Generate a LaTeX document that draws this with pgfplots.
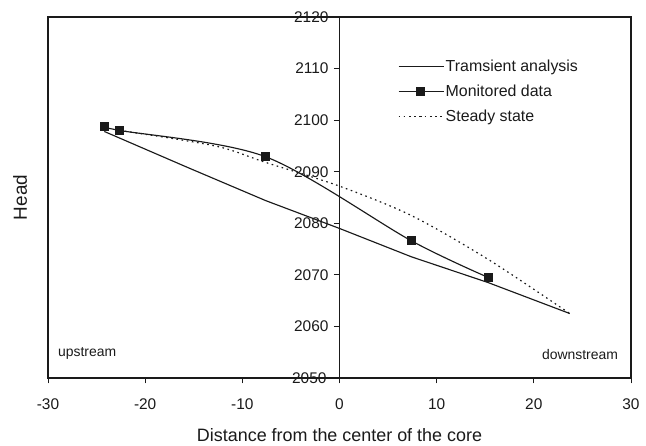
\documentclass[border=0pt]{standalone}
\usepackage{pgfplots}
\pgfplotsset{compat=1.18}
\usepackage{fontspec}
\setmainfont{Liberation Sans}
\definecolor{ink}{HTML}{1A1A1A}
\begin{document}
\begin{tikzpicture}
\begin{axis}[
  scale only axis, width=583bp, height=361bp,
  xmin=-30, xmax=30, ymin=2050, ymax=2120,
  xtick={-30,-20,...,30}, ytick={2060,2070,...,2120},
  extra y ticks={2050},
  extra y tick style={yticklabel style={xshift=-2bp}},
  minor tick num=0,
  axis x line=bottom, axis y line=middle,
  axis line style={-, line width=1.3pt, ink},
  tick align=outside, major tick length=5.5bp,
  tick style={line width=1pt, ink},
  /pgf/number format/assume math mode=true,
  /pgf/number format/1000 sep={},
  ticklabel style={font=\fontsize{15.5}{18}\selectfont, text=ink},
  xticklabel style={yshift=-12bp},
  yticklabel style={xshift=-2bp},
  xlabel={Distance from the center of the core},
  every axis x label/.style={at={(rel axis cs:0.5,-0.158)}, anchor=center, font=\fontsize{18}{20}\selectfont, text=ink},
  ylabel={Head},
  every axis y label/.style={at={(rel axis cs:-0.048,0.5)}, rotate=90, anchor=center, font=\fontsize{19}{20}\selectfont, text=ink},
  legend style={draw=none, fill=none, at={(rel axis cs:0.6,0.888)}, anchor=north west,
    font=\fontsize{16}{18}\selectfont, text=ink, row sep=8bp, inner sep=0pt,
    nodes={inner xsep=1.5bp}},
  legend cell align=left,
  legend image code/.code={\draw[mark repeat=2,mark phase=2,#1] plot coordinates {(0bp,0bp) (22bp,0bp) (45bp,0bp)};},
]
\addplot[ink, line width=1.15pt] coordinates {
(-24.2,2097.8) (-15.6,2090.8) (-7.6,2084.4) (0,2079.0) (7.4,2073.5) (15.3,2068.5) (23.7,2062.5)
};
\addlegendentry{Tramsient analysis}
\addplot[ink, line width=1.15pt, smooth, tension=0.5, mark=square*, mark size=4bp, mark options={solid, fill=ink}] coordinates {
(-24.2,2098.7) (-22.6,2098.0) (-7.6,2092.9) (7.4,2076.6) (15.3,2069.5)
};
\addlegendentry{Monitored data}
\addplot[ink, line width=1.2pt, smooth, tension=0.5, dash pattern=on 1.6bp off 3.6bp] coordinates {
(-22.6,2098.0) (-12.8,2095.0) (-7.6,2091.8) (0,2087.2) (7.4,2081.5) (15.3,2073.0) (23.7,2062.5)
};
\addlegendentry{Steady state}
\node[anchor=south west, font=\fontsize{14}{16}\selectfont, text=ink, inner sep=0pt] at (rel axis cs:0.017,0.05) {upstream};
\node[anchor=south east, font=\fontsize{14}{16}\selectfont, text=ink, inner sep=0pt] at (rel axis cs:0.978,0.05) {downstream};
\end{axis}
\draw[ink, line width=1.6pt] (0,0) rectangle (583bp,361bp);
\pgfresetboundingbox
\path (-48bp,-68bp) rectangle (598bp,378bp);
\end{tikzpicture}
\end{document}
